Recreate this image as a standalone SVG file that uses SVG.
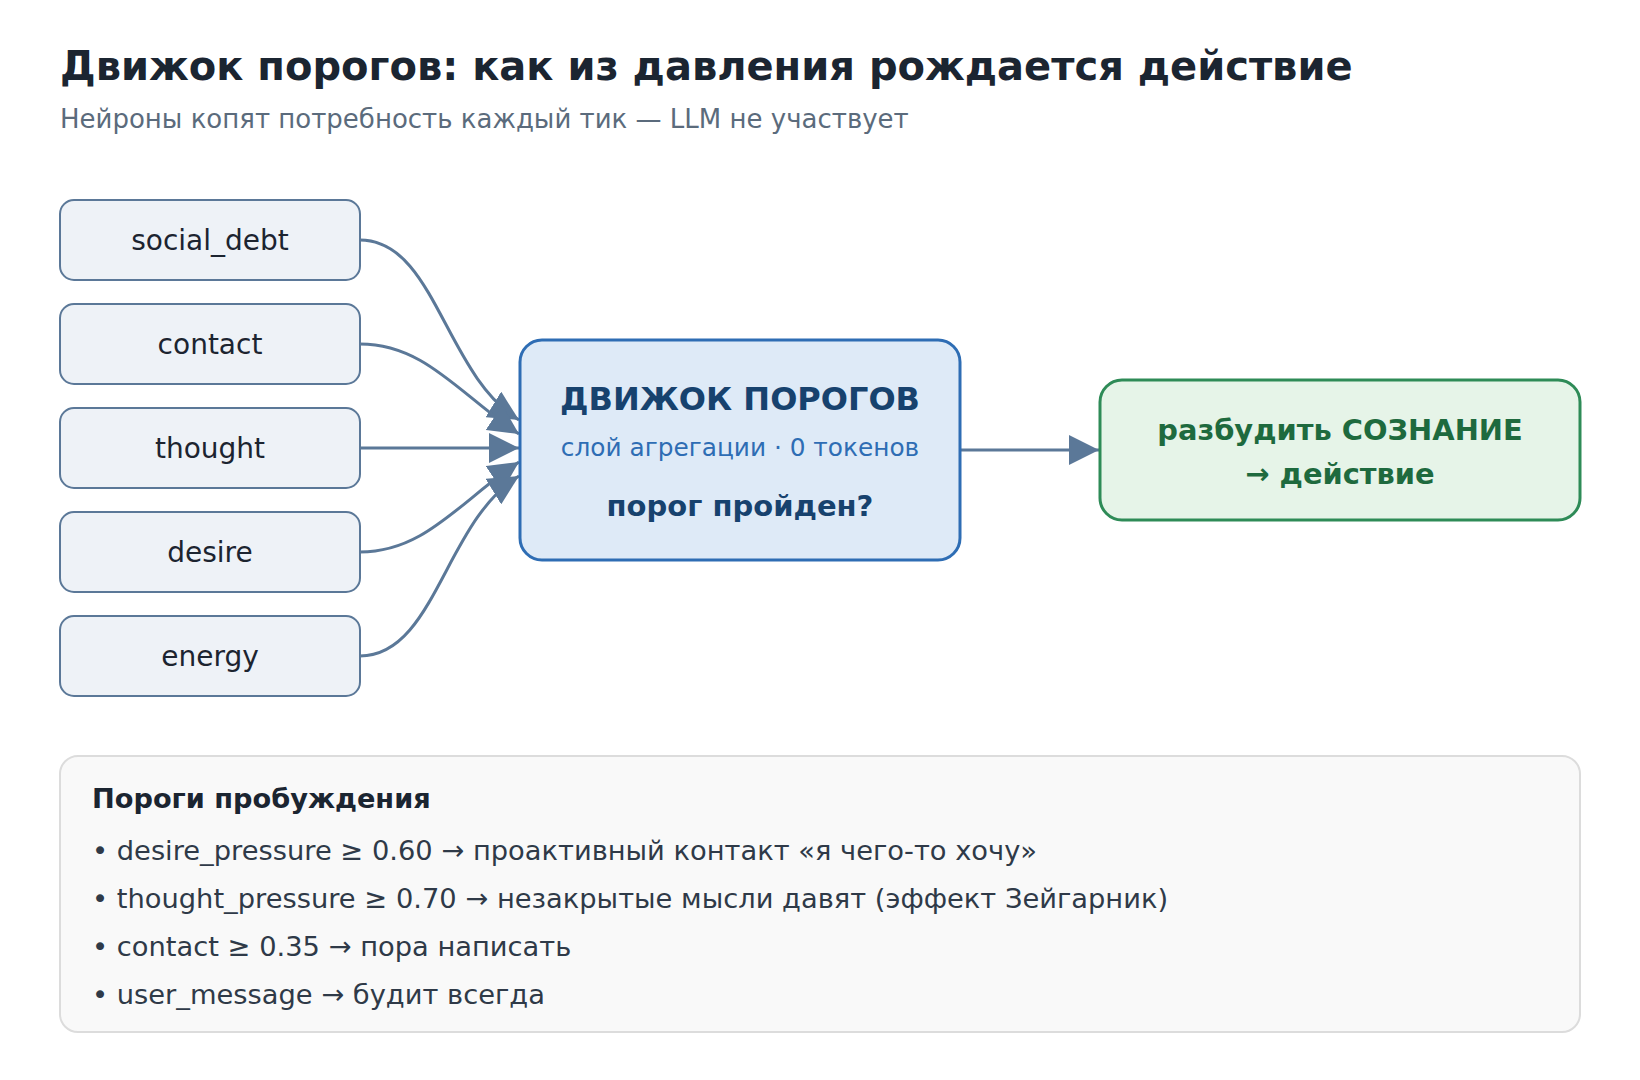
<svg xmlns="http://www.w3.org/2000/svg" width="1640" height="1080" viewBox="0 0 1640 1080">
<defs>
<style>
text{font-family:"DejaVu Sans","Noto Sans",sans-serif}
.title{font-size:40px;font-weight:bold;fill:#1b2531}
.sub{font-size:26px;fill:#5b6b7c}
.inbox{fill:#eef2f7;stroke:#5b7898;stroke-width:2}
.inlabel{font-size:28px;fill:#1c2430;text-anchor:middle}
.conn{fill:none;stroke:#5b7898;stroke-width:3}
.ah{fill:#5b7898}
.eng{fill:#deeaf7;stroke:#2e6db4;stroke-width:3}
.engT{font-size:32px;font-weight:bold;fill:#17426e;text-anchor:middle}
.engS{font-size:24.8px;fill:#2e6db4;text-anchor:middle}
.engQ{font-size:29px;font-weight:bold;fill:#17426e;text-anchor:middle}
.act{fill:#e6f4e8;stroke:#2e8b57;stroke-width:3}
.actT{font-size:28.9px;font-weight:bold;fill:#1e6a3e;text-anchor:middle}
.panel{fill:#f9f9f9;stroke:#dcdcdc;stroke-width:2}
.ph{font-size:27.2px;font-weight:bold;fill:#1b2531}
.pb{font-size:27.3px;fill:#2f3a48}
</style>
<marker id="arr" viewBox="0 0 10 10" refX="10" refY="5" markerWidth="10" markerHeight="10" markerUnits="strokeWidth" orient="auto">
<path d="M0,0 L10,5 L0,10 z" class="ah"/>
</marker>
</defs>
<rect width="1640" height="1080" fill="#ffffff"/>
<g id="header">
<text class="title" x="60" y="80">Движок порогов: как из давления рождается действие</text>
<text class="sub" x="60" y="128">Нейроны копят потребность каждый тик — LLM не участвует</text>
</g>
<g id="connectors">
<path class="conn" d="M360,240 C435,240 445,375 519,420" marker-end="url(#arr)"/>
<path class="conn" d="M360,344 C425,344 460,395 519,434" marker-end="url(#arr)"/>
<path class="conn" d="M360,448 L519,448" marker-end="url(#arr)"/>
<path class="conn" d="M360,552 C425,552 460,501 519,462" marker-end="url(#arr)"/>
<path class="conn" d="M360,656 C435,656 445,521 519,476" marker-end="url(#arr)"/>
<path class="conn" d="M960,450 L1099,450" marker-end="url(#arr)"/>
</g>
<g id="node-social_debt">
<rect class="inbox" x="60" y="200" width="300" height="80" rx="14"/>
<text class="inlabel" x="210" y="250">social_debt</text>
</g>
<g id="node-contact">
<rect class="inbox" x="60" y="304" width="300" height="80" rx="14"/>
<text class="inlabel" x="210" y="354">contact</text>
</g>
<g id="node-thought">
<rect class="inbox" x="60" y="408" width="300" height="80" rx="14"/>
<text class="inlabel" x="210" y="458">thought</text>
</g>
<g id="node-desire">
<rect class="inbox" x="60" y="512" width="300" height="80" rx="14"/>
<text class="inlabel" x="210" y="562">desire</text>
</g>
<g id="node-energy">
<rect class="inbox" x="60" y="616" width="300" height="80" rx="14"/>
<text class="inlabel" x="210" y="666">energy</text>
</g>
<g id="node-engine">
<rect class="eng" x="520" y="340" width="440" height="220" rx="22"/>
<text class="engT" x="740" y="410">ДВИЖОК ПОРОГОВ</text>
<text class="engS" x="740" y="456">слой агрегации · 0 токенов</text>
<text class="engQ" x="740" y="516">порог пройден?</text>
</g>
<g id="node-action">
<rect class="act" x="1100" y="380" width="480" height="140" rx="22"/>
<text class="actT" x="1340" y="440">разбудить СОЗНАНИЕ</text>
<text class="actT" x="1340" y="484">→ действие</text>
</g>
<g id="node-legend">
<rect class="panel" x="60" y="756" width="1520" height="276" rx="18"/>
<text class="ph" x="92" y="808">Пороги пробуждения</text>
<text class="pb" x="92" y="860">• desire_pressure ≥ 0.60 → проактивный контакт «я чего-то хочу»</text>
<text class="pb" x="92" y="908">• thought_pressure ≥ 0.70 → незакрытые мысли давят (эффект Зейгарник)</text>
<text class="pb" x="92" y="956">• contact ≥ 0.35 → пора написать</text>
<text class="pb" x="92" y="1004">• user_message → будит всегда</text>
</g>
</svg>
